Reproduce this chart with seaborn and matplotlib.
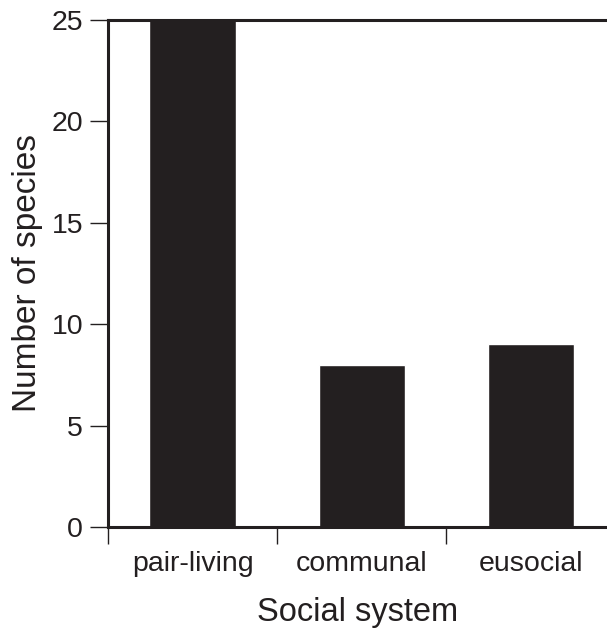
import pandas as pd
import seaborn as sns
import matplotlib.pyplot as plt

# Datos
sistemas = ["pair-living", "communal", "eusocial"]
especies = [25, 8, 9]

data = pd.DataFrame({"sistema": sistemas, "especies": especies})

sns.set_style("white")
plt.rcParams["font.family"] = ["Liberation Sans", "DejaVu Sans"]

fig = plt.figure(figsize=(6.07, 6.28), dpi=100)
ax = fig.add_axes([0.178, 0.161, 0.822, 0.807])

sns.barplot(data=data, x="sistema", y="especies", color="#231f20",
            saturation=1, width=0.51, ax=ax)

ax.set_ylim(0, 25)
ax.set_xlim(-0.5, 2.45)
ax.set_yticks([0, 5, 10, 15, 20, 25])

# Separadores entre categorias en el eje x
ax.set_xticks([-0.5, 0.5, 1.5], minor=False)
ax.set_xticklabels([])
ax.set_xticks([0, 1, 2], minor=True)
ax.set_xticklabels(sistemas, minor=True)
ax.tick_params(axis="x", which="major", direction="out", length=12, width=1,
               color="#231f20", bottom=True)
ax.tick_params(axis="x", which="minor", length=0, pad=17, labelsize=20.5,
               labelcolor="#231f20")
ax.tick_params(axis="y", direction="out", length=13, width=1, color="#231f20",
               left=True, pad=5, labelsize=20.5, labelcolor="#231f20")

for lado in ["left", "bottom", "top"]:
    ax.spines[lado].set_visible(True)
    ax.spines[lado].set_linewidth(2.2)
    ax.spines[lado].set_color("#231f20")
ax.spines["right"].set_visible(False)

ax.set_xlabel("Social system", fontsize=23.5, labelpad=15, color="#231f20")
ax.set_ylabel("Number of species", fontsize=24, labelpad=6, color="#231f20")

plt.savefig("out.png", dpi=100)
plt.close()
